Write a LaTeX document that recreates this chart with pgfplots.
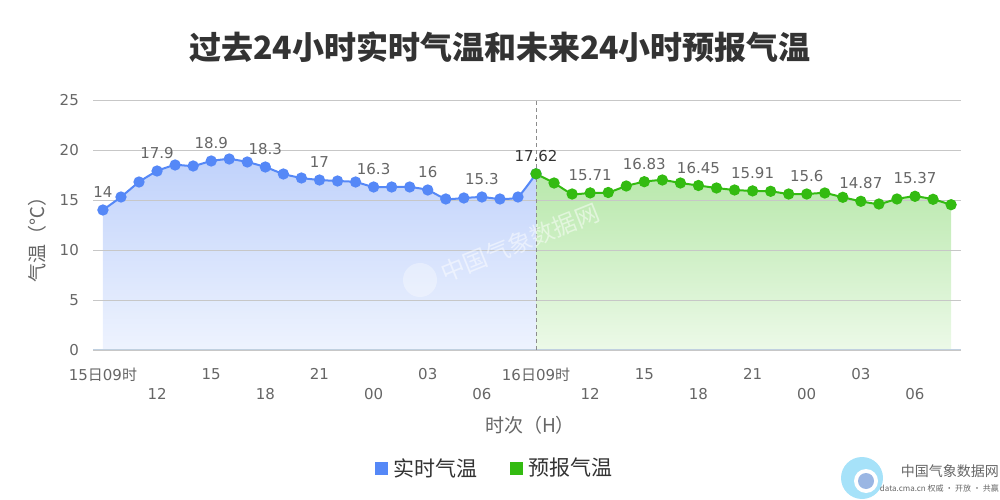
\documentclass[border=0pt]{standalone}
\usepackage{pgfplots}
\pgfplotsset{compat=1.18}
\usepackage{fontspec}
\setmainfont{DejaVu Sans}
\newfontfamily\cjk{Noto Sans CJK SC}
\definecolor{bl}{HTML}{5588F7}
\definecolor{gr}{HTML}{33BB11}
\definecolor{bltop}{HTML}{C0D2FB}
\definecolor{blbot}{HTML}{EEF3FE}
\definecolor{grtop}{HTML}{B8E8AB}
\definecolor{grbot}{HTML}{ECF9E8}
\definecolor{lab}{HTML}{666666}
\definecolor{dark}{HTML}{333333}
\definecolor{axl}{HTML}{C0D0E0}
\begin{document}
\begin{tikzpicture}
\begin{axis}[
  at={(0pt,0pt)}, anchor=south west,
  scale only axis, width=868pt, height=250pt,
  xmin=-0.55, xmax=47.55, ymin=0, ymax=25,
  set layers, clip=false,
  axis line style={draw=none},
  major tick length=0pt,
  ytick={0,5,10,15,20,25}, yticklabels={0,5,10,15,20,25},
  ymajorgrids, grid style={color=black!22, line width=0.8pt},
  xtick={0,6,12,18,24,30,36,42},
  xticklabels={15{\cjk 日}09{\cjk 时},15,21,03,16{\cjk 日}09{\cjk 时},15,21,03},
  extra x ticks={3,9,15,21,27,33,39,45},
  extra x tick labels={12,18,00,06,12,18,00,06},
  extra x tick style={xticklabel style={yshift=-20pt}},
  tick label style={font=\fontsize{15}{18}\selectfont, color=lab, inner sep=0pt},
  xticklabel style={anchor=north, yshift=-18pt},
  yticklabel style={anchor=east, xshift=-14pt},
]
% fills
\addplot[on layer=axis background, draw=none, top color=bltop, bottom color=blbot, smooth, tension=0.3] coordinates {
(0,14) (1,15.3) (2,16.8) (3,17.9) (4,18.5) (5,18.4) (6,18.9) (7,19.1) (8,18.8) (9,18.3)
(10,17.6) (11,17.2) (12,17) (13,16.9) (14,16.8) (15,16.3) (16,16.3) (17,16.3) (18,16)
(19,15.1) (20,15.2) (21,15.3) (22,15.1) (23,15.3) (24,17.62)} \closedcycle;
\addplot[on layer=axis background, draw=none, top color=grtop, bottom color=grbot, smooth, tension=0.3] coordinates {
(24,17.62) (25,16.7) (26,15.6) (27,15.71) (28,15.75) (29,16.4) (30,16.83) (31,17.0) (32,16.7)
(33,16.45) (34,16.2) (35,16.0) (36,15.91) (37,15.87) (38,15.6) (39,15.6) (40,15.7) (41,15.27)
(42,14.87) (43,14.6) (44,15.1) (45,15.37) (46,15.07) (47,14.53)} \closedcycle;
% axis line and divider
\draw[axl, line width=1pt] (axis cs:-0.55,0) -- (axis cs:47.55,0);
\draw[black!45, line width=0.8pt, dash pattern=on 4pt off 3pt] (axis cs:24,0) -- (axis cs:24,25);
% lines
\addplot[color=bl, line width=2pt, smooth, tension=0.3, mark=*, mark size=4.6pt, mark options={fill=bl, draw=none}] coordinates {
(0,14) (1,15.3) (2,16.8) (3,17.9) (4,18.5) (5,18.4) (6,18.9) (7,19.1) (8,18.8) (9,18.3)
(10,17.6) (11,17.2) (12,17) (13,16.9) (14,16.8) (15,16.3) (16,16.3) (17,16.3) (18,16)
(19,15.1) (20,15.2) (21,15.3) (22,15.1) (23,15.3) (24,17.62)};
\addplot[color=gr, line width=2pt, smooth, tension=0.3, mark=*, mark size=4.6pt, mark options={fill=gr, draw=none}] coordinates {
(24,17.62) (25,16.7) (26,15.6) (27,15.71) (28,15.75) (29,16.4) (30,16.83) (31,17.0) (32,16.7)
(33,16.45) (34,16.2) (35,16.0) (36,15.91) (37,15.87) (38,15.6) (39,15.6) (40,15.7) (41,15.27)
(42,14.87) (43,14.6) (44,15.1) (45,15.37) (46,15.07) (47,14.53)};
% data labels
\addplot[draw=none, mark=none, nodes near coords, point meta=explicit symbolic,
  nodes near coords style={font=\fontsize{15}{18}\selectfont, color=lab, anchor=south, inner sep=0pt, yshift=12pt}]
  coordinates {(0,14)[14] (3,17.9)[17.9] (6,18.9)[18.9] (9,18.3)[18.3] (12,17)[17] (15,16.3)[16.3]
  (18,16)[16] (21,15.3)[15.3] (27,15.71)[15.71] (30,16.83)[16.83] (33,16.45)[16.45]
  (36,15.91)[15.91] (39,15.6)[15.6] (42,14.87)[14.87] (45,15.37)[15.37]};
\addplot[draw=none, mark=none, nodes near coords, point meta=explicit symbolic,
  nodes near coords style={font=\fontsize{15}{18}\selectfont, color=dark, anchor=south, inner sep=0pt, yshift=12pt}]
  coordinates {(24,17.62)[17.62]};
\end{axis}
% watermark
\node[rotate=22, text=white, opacity=0.5, font=\cjk\fontsize{24}{28}\selectfont] at (427pt,107pt) {中国气象数据网};
\fill[white, opacity=0.35] (327pt,70pt) circle (17pt);
% title
\node[font=\cjk\bfseries\fontsize{32}{38}\selectfont, text=dark] at (407pt,303pt) {过去24小时实时气温和未来24小时预报气温};
% axis titles
\node[rotate=90, font=\cjk\fontsize{19}{22}\selectfont, text=lab] at (-56pt,115pt) {气温（℃）};
\node[font=\cjk\fontsize{19}{22}\selectfont, text=lab] at (437pt,-75pt) {时次（H）};
% legend
\fill[bl] (282pt,-124.5pt) rectangle (295pt,-111.5pt);
\node[anchor=west, font=\cjk\fontsize{21}{24}\selectfont, text=dark, inner sep=0pt] at (300pt,-118pt) {实时气温};
\fill[gr] (417pt,-124.5pt) rectangle (430pt,-111.5pt);
\node[anchor=west, font=\cjk\fontsize{21}{24}\selectfont, text=dark, inner sep=0pt] at (435pt,-118pt) {预报气温};
% logo
\fill[cyan!35] (769pt,-128pt) circle (21pt);
\fill[white] (773pt,-131pt) circle (12pt);
\fill[cyan!50!blue!40] (773pt,-131pt) circle (8pt);
\node[anchor=east, font=\cjk\fontsize{14}{16}\selectfont, text=black!60, inner sep=0pt] at (906pt,-121pt) {中国气象数据网};
\node[anchor=east, font=\cjk\fontsize{8}{10}\selectfont, text=black!60, inner sep=0pt] at (906pt,-138pt) {data.cma.cn 权威 · 开放 · 共赢};
% page frame
\path (-93pt,-150pt) rectangle (907pt,350pt);
\end{tikzpicture}
\end{document}
